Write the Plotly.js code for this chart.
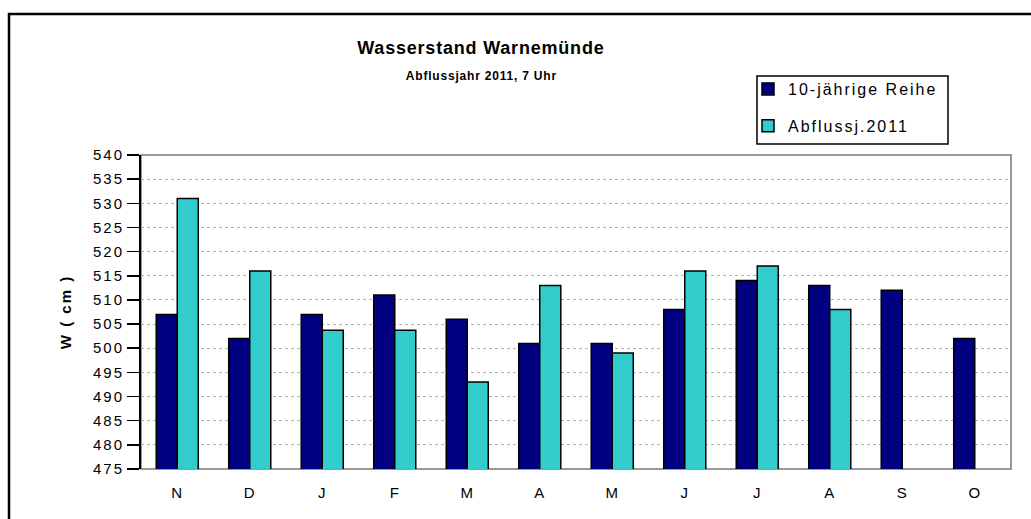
<!DOCTYPE html>
<html>
<head>
<meta charset="utf-8">
<script src="https://cdn.plot.ly/plotly-3.0.1.min.js"></script>
<style>
html,body{margin:0;padding:0;background:#fff;}
#chart{width:1031px;height:519px;}
#chart .ytick text{letter-spacing:2px;}
#chart .xtick text{letter-spacing:1px;}
#chart text.legendtext{letter-spacing:2px;}
#chart text.ytitle{letter-spacing:2px;}
#chart .annotation-text{letter-spacing:0.8px;}
</style>
</head>
<body>
<div id="chart"></div>
<script>
const categories = ["N","D","J","F","M","A","M ","J ","J  ","A ","S","O"];
const tickLabels = ["N","D","J","F","M","A","M","J","J","A","S","O"];
const reihe10 = [507, 502, 507, 511, 506, 501, 501, 508, 514, 513, 512, 502];
const abfluss2011 = [531, 516, 503.7, 503.7, 493, 513, 499, 516, 517, 508, null, null];
const seriesNames = ["10-jährige Reihe", "Abflussj.2011"];
const yTicks = [475,480,485,490,495,500,505,510,515,520,525,530,535,540];

const ML = 141, MR = 20, MT = 155, MB = 50, W = 1031, H = 519;
const PW = W - ML - MR, PH = H - MT - MB;
const px = v => (v - ML) / PW;
const py = v => (H - MB - v) / PH;

const traces = [
  {type:'bar', x:categories, y:reihe10, name:seriesNames[0], legendgroup:'a',
   marker:{color:'#000080', line:{color:'#000000', width:1.5}}},
  {type:'bar', x:categories, y:abfluss2011, name:seriesNames[1], legendgroup:'b',
   marker:{color:'#33CCCC', line:{color:'#000000', width:1.5}}}
];

const layout = {
  width:W, height:H,
  margin:{l:ML, r:MR, t:MT, b:MB, pad:0},
  paper_bgcolor:'#ffffff', plot_bgcolor:'#ffffff',
  font:{family:'Liberation Sans, Arial, sans-serif', color:'#000', size:15},
  barmode:'group', bargap:0.42, bargroupgap:0,
  showlegend:true,
  legend:{x:px(748), y:py(72), xanchor:'left', yanchor:'top',
    borderwidth:0, bgcolor:'rgba(0,0,0,0)',
    font:{size:16}, traceorder:'grouped', tracegroupgap:13},
  xaxis:{type:'category', tickmode:'array', tickvals:categories, ticktext:tickLabels,
    ticks:'outside', ticklen:10, tickcolor:'rgba(0,0,0,0)', showgrid:false,
    showline:false, tickfont:{size:15}, fixedrange:true},
  yaxis:{range:[475,540], tickmode:'array', tickvals:yTicks, ticks:'outside',
    ticklen:12, tickwidth:1.5, tickcolor:'#000', showline:true, linecolor:'#000', linewidth:2,
    showgrid:true, gridcolor:'#b0b0b0', griddash:'dot', gridwidth:1,
    zeroline:false, tickfont:{size:15},
    title:{text:'<b>W ( cm )</b>', font:{size:15}, standoff:24}},
  shapes:[
    {type:'rect', xref:'paper', yref:'paper', x0:0, x1:1, y0:0, y1:1,
     line:{color:'#999999', width:2}, layer:'below'},
    {type:'rect', xref:'paper', yref:'paper', x0:px(9), x1:px(1045), y0:py(540), y1:py(14),
     line:{color:'#000000', width:2.5}},
    {type:'rect', xref:'paper', yref:'paper', x0:px(757), x1:px(948), y0:py(144), y1:py(76),
     line:{color:'#000000', width:1.5}}
  ],
  annotations:[
    {xref:'paper', yref:'paper', x:px(481), y:py(48), xanchor:'center', yanchor:'middle',
     text:'<b>Wasserstand Warnemünde</b>', showarrow:false, font:{size:18}},
    {xref:'paper', yref:'paper', x:px(481), y:py(76), xanchor:'center', yanchor:'middle',
     text:'<b>Abflussjahr 2011, 7 Uhr</b>', showarrow:false, font:{size:12}}
  ]
};

Plotly.newPlot('chart', traces, layout, {displayModeBar:false, staticPlot:true}).then(function(gd){
  gd.querySelectorAll('.legend .scrollbox, .legend').forEach(function(n){ n.removeAttribute('clip-path'); });
});
</script>
</body>
</html>
